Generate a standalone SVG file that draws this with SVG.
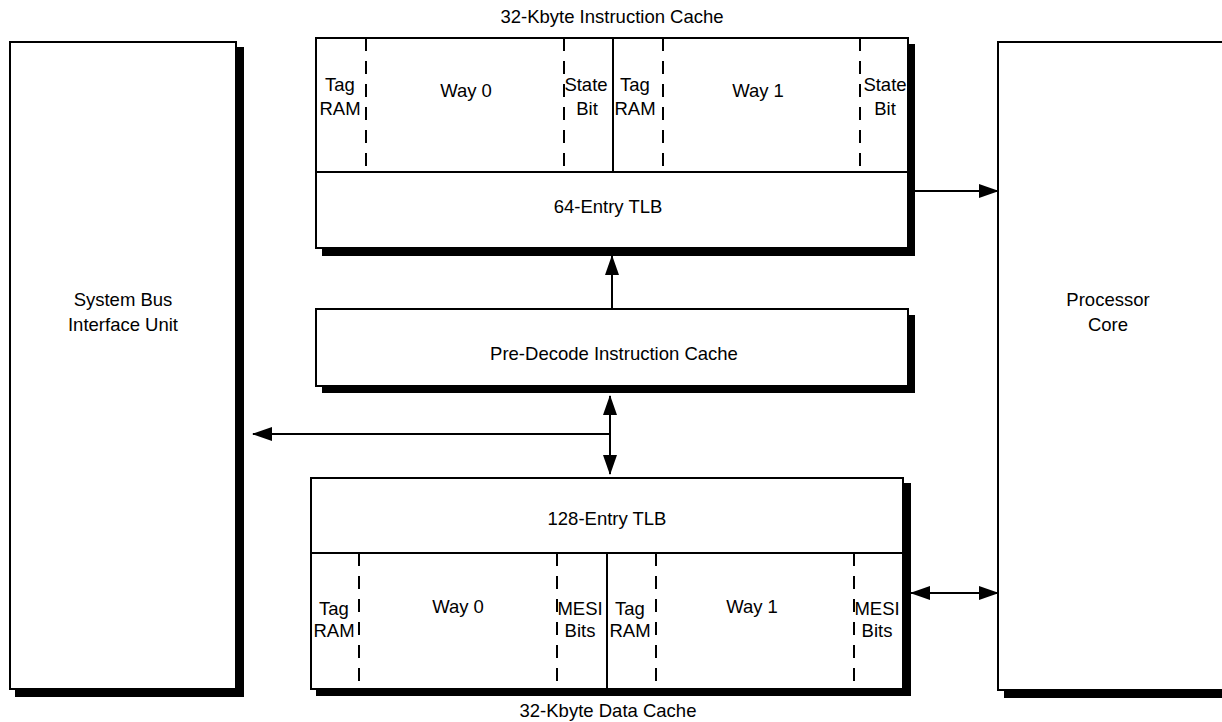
<svg xmlns="http://www.w3.org/2000/svg" width="1222" height="722" viewBox="0 0 1222 722">
<defs>
<style>
.box{fill:#fff;stroke:#000;stroke-width:2}
.shadow{fill:#000}
.solid{stroke:#000;stroke-width:2;fill:none}
.dash{stroke:#000;stroke-width:2;fill:none;stroke-dasharray:13 10}
.conn{stroke:#000;stroke-width:2;fill:none}
text{font-family:"Liberation Sans",Arial,sans-serif;font-size:18.5px;fill:#000;text-anchor:middle}
</style>
<marker id="ah" viewBox="0 0 20 14" refX="19" refY="7" markerUnits="userSpaceOnUse" markerWidth="20" markerHeight="14" orient="auto-start-reverse">
<path d="M0,0 L20,7 L0,14 z" fill="#000"/>
</marker>
</defs>
<rect width="1222" height="722" fill="#fff"/>

<g id="system-bus">
<rect class="shadow" x="15" y="47" width="229" height="650"/>
<rect class="box" x="10" y="42" width="226" height="647"/>
<text x="123" y="306">System Bus</text>
<text x="123" y="331">Interface Unit</text>
</g>

<g id="processor-core">
<rect class="shadow" x="1004" y="47" width="240" height="651"/>
<rect class="box" x="998" y="42" width="240" height="648"/>
<text x="1108" y="306">Processor</text>
<text x="1108" y="331">Core</text>
</g>

<g id="instruction-cache">
<text x="612" y="23">32-Kbyte Instruction Cache</text>
<rect class="shadow" x="322" y="44" width="593" height="212"/>
<rect class="box" x="316" y="38" width="592" height="210"/>
<line class="solid" x1="316" y1="172" x2="908" y2="172"/>
<line class="solid" x1="613" y1="38" x2="613" y2="172"/>
<line class="dash" x1="366" y1="38" x2="366" y2="172"/>
<line class="dash" x1="564" y1="38" x2="564" y2="172"/>
<line class="dash" x1="663" y1="38" x2="663" y2="172"/>
<line class="dash" x1="860" y1="38" x2="860" y2="172"/>
<text x="340" y="91">Tag</text>
<text x="340" y="115">RAM</text>
<text x="466" y="97">Way 0</text>
<text x="586" y="91">State</text>
<text x="587" y="115">Bit</text>
<text x="635" y="91">Tag</text>
<text x="635" y="115">RAM</text>
<text x="758" y="97">Way 1</text>
<text x="885" y="91">State</text>
<text x="885" y="115">Bit</text>
<text x="608" y="213">64-Entry TLB</text>
</g>

<g id="pre-decode-cache">
<rect class="shadow" x="322" y="315" width="593" height="78"/>
<rect class="box" x="316" y="309" width="592" height="77"/>
<text x="614" y="360">Pre-Decode Instruction Cache</text>
</g>

<g id="data-cache">
<rect class="shadow" x="316" y="483" width="595" height="213"/>
<rect class="box" x="311" y="478" width="592" height="211"/>
<line class="solid" x1="311" y1="553" x2="903" y2="553"/>
<line class="solid" x1="607" y1="553" x2="607" y2="689"/>
<line class="dash" x1="359" y1="553" x2="359" y2="689"/>
<line class="dash" x1="557" y1="553" x2="557" y2="689"/>
<line class="dash" x1="656" y1="553" x2="656" y2="689"/>
<line class="dash" x1="854" y1="553" x2="854" y2="689"/>
<text x="607" y="525">128-Entry TLB</text>
<text x="334" y="615">Tag</text>
<text x="334" y="637">RAM</text>
<text x="458" y="613">Way 0</text>
<text x="580" y="615">MESI</text>
<text x="580" y="637">Bits</text>
<text x="630" y="615">Tag</text>
<text x="630" y="637">RAM</text>
<text x="752" y="613">Way 1</text>
<text x="877" y="615">MESI</text>
<text x="877" y="637">Bits</text>
<text x="608" y="717">32-Kbyte Data Cache</text>
</g>

<g id="connectors">
<line class="conn" x1="915" y1="191" x2="998" y2="191" marker-end="url(#ah)"/>
<line class="conn" x1="612" y1="309" x2="612" y2="256" marker-end="url(#ah)"/>
<line class="conn" x1="610" y1="396" x2="610" y2="474" marker-start="url(#ah)" marker-end="url(#ah)"/>
<line class="conn" x1="610" y1="434" x2="253" y2="434" marker-end="url(#ah)"/>
<line class="conn" x1="911" y1="593" x2="998" y2="593" marker-start="url(#ah)" marker-end="url(#ah)"/>
</g>
</svg>
